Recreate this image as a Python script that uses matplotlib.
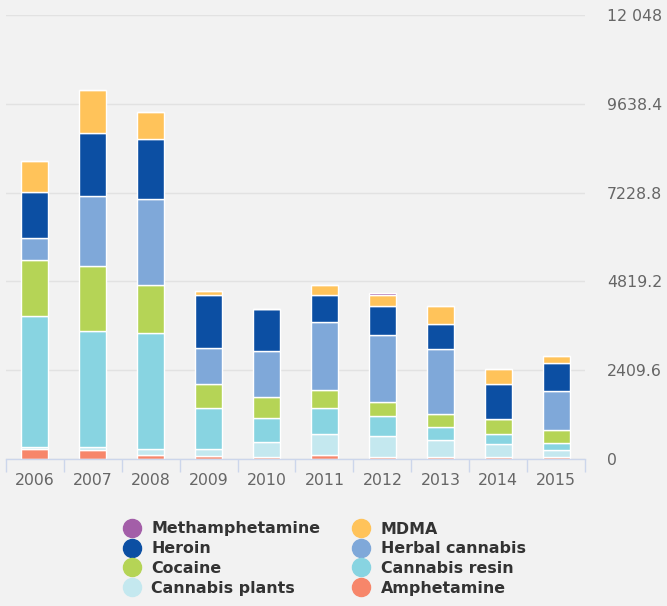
"""
Stacked bars: drug seizures per year, values read from the reference picture.
"""
import matplotlib
matplotlib.use('Agg')
import matplotlib.pyplot as plt
from matplotlib.lines import Line2D
from matplotlib.ticker import FixedLocator, FuncFormatter
import numpy as np

plt.rcParams['font.family'] = ['DejaVu Sans']

# Data (bottom to top of each stack)
years = ['2006', '2007', '2008', '2009', '2010', '2011', '2012', '2013', '2014', '2015']
amphetamine = [270, 244, 108, 81, 63, 100, 63, 63, 63, 63]
cannabis_plants = [60, 90, 172, 199, 406, 587, 569, 444, 336, 173]
cannabis_resin = [3550, 3147, 3130, 1112, 643, 705, 526, 361, 288, 190]
cocaine = [1520, 1763, 1311, 651, 570, 480, 388, 361, 390, 361]
herbal_cannabis = [597, 1891, 2333, 960, 1239, 1845, 1810, 1764, 0, 1049]
heroin = [1248, 1718, 1636, 1438, 1157, 724, 795, 678, 958, 760]
mdma = [849, 1158, 724, 117, 0, 280, 290, 480, 407, 190]
methamphetamine = [0, 0, 0, 0, 0, 0, 71, 0, 0, 0]

series = [
    ('Amphetamine', amphetamine, '#f7866a'),
    ('Cannabis plants', cannabis_plants, '#c4e8ef'),
    ('Cannabis resin', cannabis_resin, '#88d4e1'),
    ('Cocaine', cocaine, '#b5d456'),
    ('Herbal cannabis', herbal_cannabis, '#7fa8d9'),
    ('Heroin', heroin, '#0c4fa3'),
    ('MDMA', mdma, '#ffc35a'),
    ('Methamphetamine', methamphetamine, '#a35ea8'),
]
y_ticks = [0, 2409.6, 4819.2, 7228.8, 9638.4, 12048]

BG = '#f2f2f2'
AXIS_COL = '#ccd6eb'
TEXT_COL = '#666666'

fig = plt.figure(figsize=(6.67, 6.06), dpi=100, facecolor=BG)
ax = fig.add_axes([5.7 / 667, 1 - 459 / 606, (585.3 - 5.7) / 667, (459 - 15) / 606])
ax.set_facecolor(BG)

x = np.arange(len(years))
bottom = np.zeros(len(years))
for name, vals, col in series:
    vals = np.array(vals, dtype=float)
    ax.bar(x, vals, width=0.47, bottom=bottom, color=col,
           edgecolor='white', linewidth=1, zorder=3)
    bottom += vals

ax.set_xlim(-0.5, len(years) - 0.5)
ax.set_ylim(0, 12048)

# y axis on the right
ax.yaxis.tick_right()
ax.yaxis.set_major_locator(FixedLocator(y_ticks))


def fmt(v, pos):
    if v == 0:
        return '0'
    if v >= 10000:
        return '{:,.0f}'.format(v).replace(',', ' ')
    return '{:.1f}'.format(v)


ax.yaxis.set_major_formatter(FuncFormatter(fmt))
ax.tick_params(axis='y', length=0, pad=15.5, labelsize=11.3, labelcolor=TEXT_COL)
for lab in ax.get_yticklabels():
    lab.set_horizontalalignment('left')
ax.grid(axis='y', color='#e2e2e2', linewidth=1, zorder=0)

# x axis
ax.set_xticks(x)
ax.set_xticklabels(years)
ax.set_xticks(np.arange(-0.5, len(years)), minor=True)
ax.tick_params(axis='x', which='major', length=0, pad=10, labelsize=11.3, labelcolor=TEXT_COL)
ax.tick_params(axis='x', which='minor', length=9.5, width=1, color=AXIS_COL)

for s in ['top', 'left', 'right']:
    ax.spines[s].set_visible(False)
ax.spines['bottom'].set_color(AXIS_COL)
ax.spines['bottom'].set_linewidth(1)
ax.spines['bottom'].set_zorder(4)

# legend, two columns filled row by row
legend_order = ['Methamphetamine', 'MDMA', 'Heroin', 'Herbal cannabis',
                'Cocaine', 'Cannabis resin', 'Cannabis plants', 'Amphetamine']
colors = {name: col for name, _, col in series}


def handle(name):
    return Line2D([], [], linestyle='none', marker='o', markersize=13,
                  markerfacecolor=colors[name], markeredgecolor=colors[name])


for col_idx, left_px in [(0, 122.5), (1, 351.8)]:
    names = legend_order[col_idx::2]
    leg = fig.legend([handle(n) for n in names], names,
                     loc='upper left', bbox_to_anchor=(left_px / 667, 1 - 521.5 / 606),
                     frameon=False, borderpad=0, borderaxespad=0,
                     handlelength=1.2, handletextpad=0.62, labelspacing=0.3,
                     prop={'weight': 'bold', 'size': 11.4})
    for t in leg.get_texts():
        t.set_color('#333333')

fig.savefig('out.png', dpi=100, facecolor=BG)
